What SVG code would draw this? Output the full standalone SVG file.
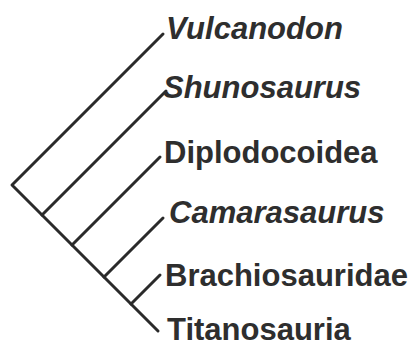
<svg xmlns="http://www.w3.org/2000/svg" width="413" height="348" viewBox="0 0 413 348">
<style>
.br{stroke:#2a2a2a;stroke-width:3;fill:none;stroke-linecap:round;stroke-linejoin:round}
.t{font-family:"Liberation Sans",Arial,sans-serif;font-weight:bold;font-size:31px;fill:#2e2e2e}
.i{font-style:italic}
</style>
<rect width="413" height="348" fill="#ffffff"/>
<g id="connectors">
<polyline class="br" points="163,34 12,185 158,331"/>
<line class="br" x1="42" y1="215" x2="166" y2="91"/>
<line class="br" x1="72" y1="245" x2="160" y2="157"/>
<line class="br" x1="104" y1="277" x2="163" y2="218"/>
<line class="br" x1="131" y1="304" x2="160" y2="275"/>
</g>
<g id="vulcanodon"><text class="t i" x="166" y="39">Vulcanodon</text></g>
<g id="shunosaurus"><text class="t i" x="163" y="98">Shunosaurus</text></g>
<g id="diplodocoidea"><text class="t" x="164" y="163">Diplodocoidea</text></g>
<g id="camarasaurus"><text class="t i" x="169" y="223">Camarasaurus</text></g>
<g id="brachiosauridae"><text class="t" x="165" y="286">Brachiosauridae</text></g>
<g id="titanosauria"><text class="t" x="167" y="340">Titanosauria</text></g>
</svg>
